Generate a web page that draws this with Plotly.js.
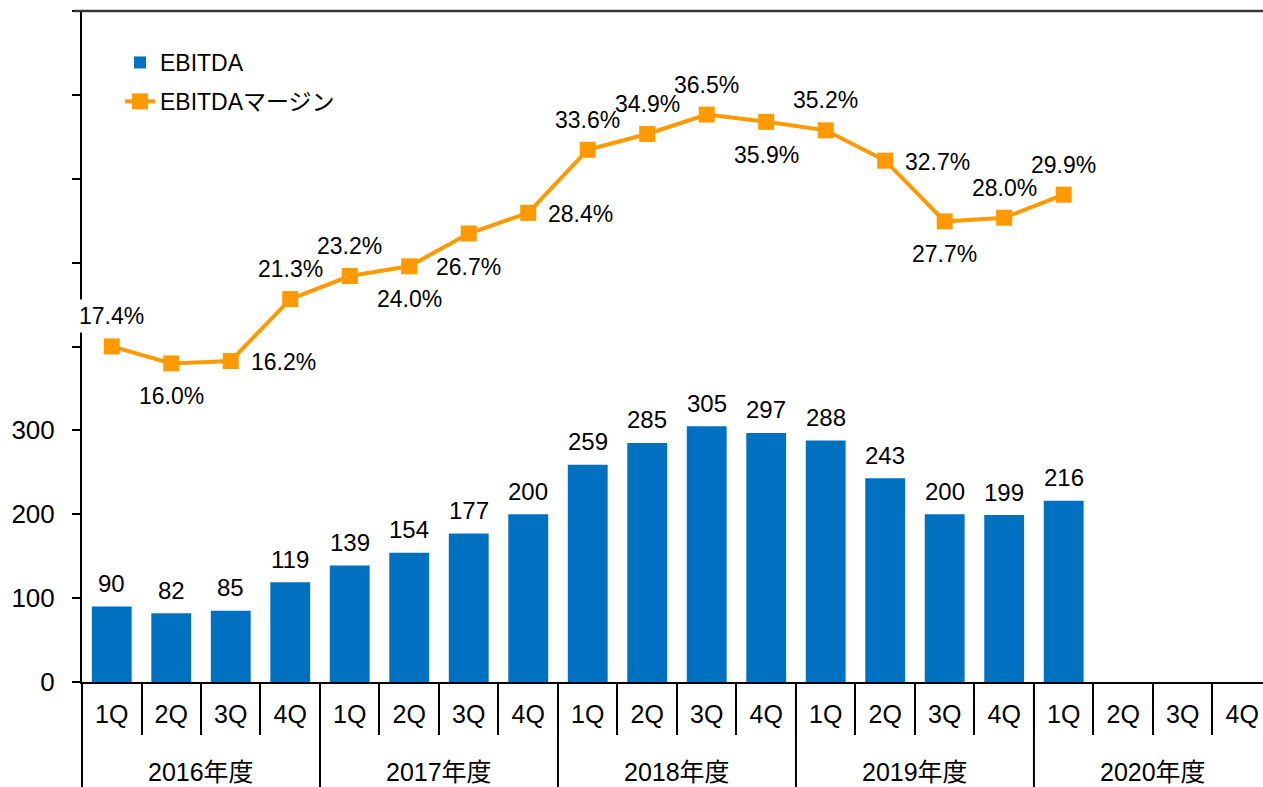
<!DOCTYPE html>
<html><head><meta charset="utf-8">
<script src="https://cdn.plot.ly/plotly-3.0.1.min.js"></script>
<style>html,body{margin:0;padding:0;background:#fff}#chart{width:1263px;height:787px}</style>
</head><body><div id="chart"></div>
<script>
// ---- data ----
const fiscalYears = ['2016年度', '2017年度', '2018年度', '2019年度', '2020年度'];
const quarters = ['1Q', '2Q', '3Q', '4Q'];
const ebitda = [90, 82, 85, 119, 139, 154, 177, 200, 259, 285, 305, 297, 288, 243, 200, 199, 216, null, null, null];
const ebitdaMargin = [17.4, 16.0, 16.2, 21.3, 23.2, 24.0, 26.7, 28.4, 33.6, 34.9, 36.5, 35.9, 35.2, 32.7, 27.7, 28.0, 29.9, null, null, null];
const yTickVals = [0, 100, 200, 300, 400, 500, 600, 700, 800];
const yTickText = ['0', '100', '200', '300', '', '', '', '', ''];
const seriesNames = ['EBITDA', 'EBITDAマージン'];

// ---- label placement (style) ----
const marginLabelPos = ['above','below','right','above','above','below','below','right','above','above','above','below','above','right','below','above','above'];

const FONT = 'Liberation Sans, Arial, Noto Sans CJK JP, sans-serif';
const BLUE = '#0070C0';
const ORANGE = '#FF9900';
const xRange = [-0.5, 19.35];

const categories = [];
const tickText = [];
fiscalYears.forEach(y => quarters.forEach(q => { categories.push(y + ' ' + q); tickText.push(q); }));

const annotations = [];
ebitda.forEach((v, i) => {
  if (v === null) return;
  annotations.push({x: categories[i], y: v, xref: 'x', yref: 'y', text: String(v), showarrow: false,
    yanchor: 'middle', yshift: 23, font: {family: FONT, size: 24, color: '#000'}});
});
ebitdaMargin.forEach((v, i) => {
  if (v === null) return;
  const p = marginLabelPos[i];
  const a = {x: categories[i], y: v, xref: 'x', yref: 'y2', text: v.toFixed(1) + '%', showarrow: false,
    bgcolor: i === 0 ? '#fff' : 'rgba(0,0,0,0)', borderpad: 3, font: {family: FONT, size: 23, color: '#000'}};
  if (p === 'above') { a.yanchor = 'middle'; a.yshift = 30; }
  else if (p === 'below') { a.yanchor = 'middle'; a.yshift = -33; }
  else { a.xanchor = 'left'; a.yanchor = 'middle'; a.xshift = 16; a.yshift = -1; }
  annotations.push(a);
});
fiscalYears.forEach((y, k) => {
  annotations.push({x: k * quarters.length + (quarters.length - 1) / 2, y: 0, xref: 'x', yref: 'paper',
    text: y, showarrow: false, yanchor: 'middle', yshift: -90, font: {family: FONT, size: 25, color: '#000'}});
});

const shapes = [];
const plotH = 787 - 11 - 105;
fiscalYears.forEach((y, k) => {
  const xb = k * quarters.length - 0.5;
  const xp = (xb - xRange[0]) / (xRange[1] - xRange[0]);
  shapes.push({type: 'line', xref: 'paper', yref: 'paper', x0: xp, x1: xp, y0: 0, y1: -120 / plotH,
    line: {color: '#000', width: 2}});
});
shapes.push({type: 'line', xref: 'paper', yref: 'paper', x0: -8 / 1181, x1: 1, y0: 1, y1: 1,
  line: {color: '#383838', width: 2.5}});

const traces = [
  {type: 'bar', name: seriesNames[0], x: categories, y: ebitda, marker: {color: BLUE},
   hoverinfo: 'skip', cliponaxis: false, legendgroup: 'a'},
  {type: 'scatter', mode: 'lines+markers', name: seriesNames[1], x: categories, y: ebitdaMargin, yaxis: 'y2',
   line: {color: ORANGE, width: 4}, marker: {symbol: 'square', size: 16, color: ORANGE}, hoverinfo: 'skip',
   legendgroup: 'b'}
];

const layout = {
  width: 1263, height: 787,
  margin: {l: 82, r: 0, t: 11, b: 105},
  paper_bgcolor: '#fff', plot_bgcolor: '#fff',
  bargap: 0.33,
  font: {family: FONT, color: '#000'},
  showlegend: true,
  legend: {x: 38 / 1181, xanchor: 'left', y: 1 - 30 / plotH, yanchor: 'top', bgcolor: 'rgba(0,0,0,0)',
    font: {family: FONT, size: 23, color: '#000'}, traceorder: 'grouped', tracegroupgap: 6},
  xaxis: {type: 'category', range: xRange, tickvals: categories, ticktext: tickText,
    tickson: 'boundaries', ticks: 'outside', ticklen: 51, tickwidth: 2, tickcolor: '#000',
    ticklabelstandoff: 9,
    showline: true, linecolor: '#000', linewidth: 2, showgrid: false, zeroline: false,
    tickfont: {family: FONT, size: 25, color: '#000'}},
  yaxis: {range: [0, 800], tickvals: yTickVals, ticktext: yTickText, ticks: 'outside', ticklen: 8,
    tickwidth: 2, tickcolor: '#000', showline: true, linecolor: '#000', linewidth: 2,
    showgrid: false, zeroline: false, ticklabelstandoff: 12,
    tickfont: {family: FONT, size: 26, color: '#000'}},
  yaxis2: {overlaying: 'y', range: [-10.24, 45.03], visible: false, showgrid: false, zeroline: false},
  annotations: annotations,
  shapes: shapes
};

Plotly.newPlot('chart', traces, layout, {displayModeBar: false, staticPlot: true});
</script>
</body></html>
